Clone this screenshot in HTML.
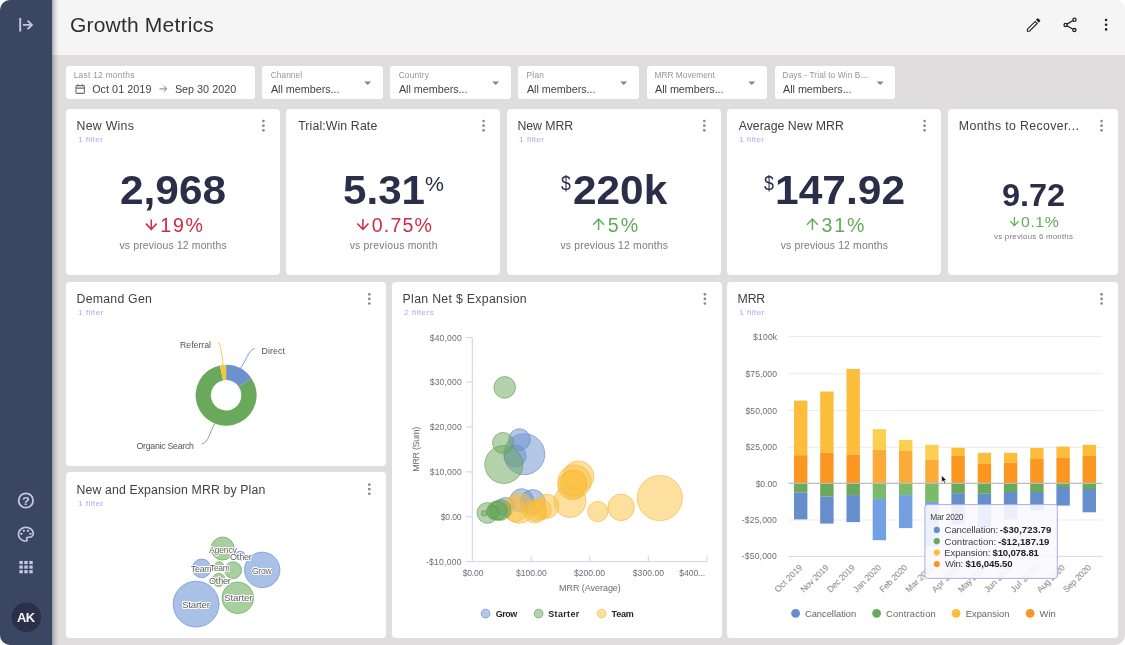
<!DOCTYPE html>
<html lang="en"><head><meta charset="utf-8"><title>Growth Metrics</title>
<style>
html,body{margin:0;padding:0;background:#fff;}
body{width:1125px;height:645px;overflow:hidden;font-family:"Liberation Sans", sans-serif;}
#app{position:relative;width:1125px;height:645px;background:#dfdddd;border-radius:10px;overflow:hidden;}
#side{position:absolute;left:0;top:0;width:52px;height:645px;background:#3a4662;}
#sh{position:absolute;left:52px;top:0;width:8px;height:645px;background:linear-gradient(90deg,rgba(40,40,50,.38),rgba(40,40,50,.20) 25%,rgba(40,40,50,.08) 55%,rgba(40,40,50,.02) 80%,rgba(40,40,50,0));}
#head{position:absolute;left:52px;top:0;width:1073px;height:55px;background:#f6f5f5;}
.fb,.card{position:absolute;background:#fff;}
.fb{border-radius:3px;}
.card{border-radius:4px;}
.t{position:absolute;white-space:pre;line-height:1;transform-origin:0 50%;}
svg{position:absolute;left:0;top:0;}
#tx{position:absolute;left:0;top:0;width:1125px;height:645px;will-change:transform;}
svg text{font-family:"Liberation Sans", sans-serif;}
</style></head>
<body>
<div id="app">
<div id="head"></div>
<div id="side"></div>
<div id="sh"></div>
<div class="fb" style="left:66.2px;top:66.4px;width:188.8px;height:32.3px"></div>
<div class="fb" style="left:262.2px;top:66.4px;width:120.7px;height:32.3px"></div>
<div class="fb" style="left:390.1px;top:66.4px;width:120.7px;height:32.3px"></div>
<div class="fb" style="left:518.2px;top:66.4px;width:120.7px;height:32.3px"></div>
<div class="fb" style="left:646.7px;top:66.4px;width:120.7px;height:32.3px"></div>
<div class="fb" style="left:774.8px;top:66.4px;width:120.7px;height:32.3px"></div>
<div class="card" style="left:66.0px;top:108.8px;width:214.0px;height:166.5px"></div>
<div class="card" style="left:286.2px;top:108.8px;width:214.1px;height:166.5px"></div>
<div class="card" style="left:506.9px;top:108.8px;width:214.0px;height:166.5px"></div>
<div class="card" style="left:727.2px;top:108.8px;width:214.0px;height:166.5px"></div>
<div class="card" style="left:948.0px;top:108.8px;width:170.4px;height:166.5px"></div>
<div class="card" style="left:66.0px;top:282.0px;width:320.0px;height:183.6px"></div>
<div class="card" style="left:66.0px;top:472.2px;width:320.0px;height:166.0px"></div>
<div class="card" style="left:392.2px;top:282.0px;width:329.4px;height:356.2px"></div>
<div class="card" style="left:727.2px;top:282.0px;width:391.2px;height:356.2px"></div>
<svg width="1125" height="645" viewBox="0 0 1125 645">
<g stroke="#c3c9df" stroke-width="1.9" fill="none" stroke-linecap="butt"><path d="M20.2 18.1V31.6"/><path d="M23 24.9H31.6"/><path d="M27.6 20.6L31.9 24.9L27.6 29.2"/></g>
<circle cx="25.9" cy="500.5" r="7.2" fill="none" stroke="#c3c9df" stroke-width="1.8"/>
<g transform="translate(16.06,525.1) scale(0.82,0.76)"><path fill="#c3c9df" d="M12 22C6.49 22 2 17.51 2 12S6.49 2 12 2s10 4.04 10 9c0 3.31-2.69 6-6 6h-1.77c-.28 0-.5.22-.5.5 0 .12.05.23.13.33.41.47.64 1.06.64 1.67A2.5 2.5 0 0 1 12 22zm0-18c-4.41 0-8 3.59-8 8s3.59 8 8 8c.28 0 .5-.22.5-.5a.54.54 0 0 0-.14-.35c-.41-.46-.63-1.05-.63-1.65a2.5 2.5 0 0 1 2.5-2.5H16c2.21 0 4-1.79 4-4 0-3.86-3.59-7-8-7z"/><circle cx="6.5" cy="11.5" r="1.5" fill="#c3c9df"/><circle cx="9.5" cy="7.5" r="1.5" fill="#c3c9df"/><circle cx="14.5" cy="7.5" r="1.5" fill="#c3c9df"/><circle cx="17.5" cy="11.5" r="1.5" fill="#c3c9df"/></g>
<rect x="19.4" y="560.9" width="3.4" height="3.2" fill="#c3c9df"/>
<rect x="19.4" y="565.5" width="3.4" height="3.2" fill="#c3c9df"/>
<rect x="19.4" y="570.1" width="3.4" height="3.2" fill="#c3c9df"/>
<rect x="24.3" y="560.9" width="3.4" height="3.2" fill="#c3c9df"/>
<rect x="24.3" y="565.5" width="3.4" height="3.2" fill="#c3c9df"/>
<rect x="24.3" y="570.1" width="3.4" height="3.2" fill="#c3c9df"/>
<rect x="29.3" y="560.9" width="3.4" height="3.2" fill="#c3c9df"/>
<rect x="29.3" y="565.5" width="3.4" height="3.2" fill="#c3c9df"/>
<rect x="29.3" y="570.1" width="3.4" height="3.2" fill="#c3c9df"/>
<circle cx="26.3" cy="617.3" r="14.8" fill="#2a3047"/>
<g transform="translate(1024.6,16.0) scale(0.75)"><path fill="#222" d="M3 17.25V21h3.75L17.81 9.94l-3.75-3.75L3 17.25zm2.92 2.33H4.42v-1.5l9.64-9.64 1.5 1.5-9.64 9.64zM20.71 5.63l-2.34-2.34a1 1 0 0 0-1.41 0l-1.83 1.83 3.75 3.75 1.83-1.83a1 1 0 0 0 0-1.41z"/></g>
<g stroke="#222" stroke-width="1.3" fill="none"><path d="M1067 24.1L1073.1 20.5M1067 25.7L1073 29.3"/><circle cx="1065.6" cy="24.9" r="1.6"/><circle cx="1074.5" cy="19.7" r="1.6"/><circle cx="1074.4" cy="30.1" r="1.6"/></g>
<circle cx="1106.1" cy="20.0" r="1.3" fill="#222"/>
<circle cx="1106.1" cy="24.7" r="1.3" fill="#222"/>
<circle cx="1106.1" cy="29.4" r="1.3" fill="#222"/>
<g stroke="#6e6e6e" stroke-width="1.1" fill="none"><rect x="76" y="85.6" width="8.4" height="7.8" rx="0.9"/><path d="M76 88.2H84.4" stroke-width="1.3"/><path d="M78.1 84.2V86M82.3 84.2V86" stroke-width="1.2"/></g>
<g stroke="#808080" stroke-width="1" fill="none"><path d="M159.5 88.9H166.6M163.6 85.9L166.8 88.9L163.6 91.9"/></g>
<path d="M364.1 81.4H371.1L367.6 85.0Z" fill="#858585"/>
<path d="M492.1 81.4H499.1L495.6 85.0Z" fill="#858585"/>
<path d="M620.2 81.4H627.2L623.7 85.0Z" fill="#858585"/>
<path d="M748.3 81.4H755.3L751.8 85.0Z" fill="#858585"/>
<path d="M876.6 81.4H883.6L880.1 85.0Z" fill="#858585"/>
<circle cx="263.4" cy="121.1" r="1.35" fill="#8b8b8b"/>
<circle cx="263.4" cy="125.7" r="1.35" fill="#8b8b8b"/>
<circle cx="263.4" cy="130.3" r="1.35" fill="#8b8b8b"/>
<circle cx="483.6" cy="121.1" r="1.35" fill="#8b8b8b"/>
<circle cx="483.6" cy="125.7" r="1.35" fill="#8b8b8b"/>
<circle cx="483.6" cy="130.3" r="1.35" fill="#8b8b8b"/>
<circle cx="704.3" cy="121.1" r="1.35" fill="#8b8b8b"/>
<circle cx="704.3" cy="125.7" r="1.35" fill="#8b8b8b"/>
<circle cx="704.3" cy="130.3" r="1.35" fill="#8b8b8b"/>
<circle cx="924.6" cy="121.1" r="1.35" fill="#8b8b8b"/>
<circle cx="924.6" cy="125.7" r="1.35" fill="#8b8b8b"/>
<circle cx="924.6" cy="130.3" r="1.35" fill="#8b8b8b"/>
<circle cx="1101.6" cy="121.1" r="1.35" fill="#8b8b8b"/>
<circle cx="1101.6" cy="125.7" r="1.35" fill="#8b8b8b"/>
<circle cx="1101.6" cy="130.3" r="1.35" fill="#8b8b8b"/>
<circle cx="369.3" cy="294.3" r="1.35" fill="#8b8b8b"/>
<circle cx="369.3" cy="298.9" r="1.35" fill="#8b8b8b"/>
<circle cx="369.3" cy="303.5" r="1.35" fill="#8b8b8b"/>
<circle cx="704.9" cy="294.3" r="1.35" fill="#8b8b8b"/>
<circle cx="704.9" cy="298.9" r="1.35" fill="#8b8b8b"/>
<circle cx="704.9" cy="303.5" r="1.35" fill="#8b8b8b"/>
<circle cx="1101.6" cy="294.3" r="1.35" fill="#8b8b8b"/>
<circle cx="1101.6" cy="298.9" r="1.35" fill="#8b8b8b"/>
<circle cx="1101.6" cy="303.5" r="1.35" fill="#8b8b8b"/>
<circle cx="369.3" cy="484.6" r="1.35" fill="#8b8b8b"/>
<circle cx="369.3" cy="489.2" r="1.35" fill="#8b8b8b"/>
<circle cx="369.3" cy="493.8" r="1.35" fill="#8b8b8b"/>
<g stroke="#cc2c45" stroke-width="1.5" fill="none"><path d="M151.3 219.4V229.0"/><path d="M145.9 223.63000000000002L151.3 229.3L156.70000000000002 223.63000000000002"/></g>
<g stroke="#cc2c45" stroke-width="1.5" fill="none"><path d="M362.9 218.9V229.0"/><path d="M357.29999999999995 223.42000000000002L362.9 229.3L368.5 223.42000000000002"/></g>
<g stroke="#64aa5a" stroke-width="1.5" fill="none"><path d="M598.6 230.0V219.4"/><path d="M593.2 224.76999999999998L598.6 219.1L604.0 224.76999999999998"/></g>
<g stroke="#64aa5a" stroke-width="1.5" fill="none"><path d="M812.4 230.0V219.4"/><path d="M807.0 224.76999999999998L812.4 219.1L817.8 224.76999999999998"/></g>
<g stroke="#64aa5a" stroke-width="1.3" fill="none"><path d="M1014.45 217.0V225.29999999999998"/><path d="M1010.35 221.295L1014.45 225.6L1018.5500000000001 221.295"/></g>
<path d="M251.39 378.24A30.5 30.5 0 1 1 219.97 365.42L223.04 380.41A15.2 15.2 0 1 0 238.70 386.80Z" fill="#6aa95b"/>
<path d="M226.10 364.80A30.5 30.5 0 0 1 251.39 378.24L238.70 386.80A15.2 15.2 0 0 0 226.10 380.10Z" fill="#6b91cf"/>
<path d="M219.97 365.42A30.5 30.5 0 0 1 226.10 364.80L226.10 380.10A15.2 15.2 0 0 0 223.04 380.41Z" fill="#f8c440"/>
<g fill="none" stroke-width="0.9"><path d="M217.4 342.3C221.5 343 221.5 356 223.3 365.5" stroke="#f8c440"/><path d="M254.6 348.5C248 350 246 362 240.2 368.4" stroke="#6b91cf"/><path d="M201.8 443.8C208 443.5 210 432 214.4 424" stroke="#6aa95b"/></g>
<circle cx="196.1" cy="604.1" r="22.9" fill="#a9c0e7" stroke="#7c9fd9" stroke-width="0.9"/>
<circle cx="237.8" cy="597.8" r="15.8" fill="#a8cf9f" stroke="#7cb76e" stroke-width="0.9"/>
<circle cx="262.2" cy="569.9" r="17.7" fill="#a9c0e7" stroke="#7c9fd9" stroke-width="0.9"/>
<circle cx="222.6" cy="548.5" r="11.5" fill="#a8cf9f" stroke="#7cb76e" stroke-width="0.9"/>
<circle cx="201.7" cy="568.4" r="9.3" fill="#a9c0e7" stroke="#7c9fd9" stroke-width="0.9"/>
<circle cx="233.2" cy="570.2" r="8.4" fill="#a8cf9f" stroke="#7cb76e" stroke-width="0.9"/>
<circle cx="219.2" cy="566.5" r="4.7" fill="#a8cf9f" stroke="#7cb76e" stroke-width="0.9"/>
<circle cx="218.8" cy="579.9" r="6.5" fill="#a8cf9f" stroke="#7cb76e" stroke-width="0.9"/>
<circle cx="240.2" cy="555.9" r="4.7" fill="#a9c0e7" stroke="#7c9fd9" stroke-width="0.9"/>
<g stroke="#cdd1f6" stroke-width="1" fill="none"><path d="M472.3 337.6V561.6H707"/><path d="M466 337.6H472.3"/><path d="M466 382.0H472.3"/><path d="M466 426.9H472.3"/><path d="M466 471.9H472.3"/><path d="M466 516.7H472.3"/><path d="M466 561.6H472.3"/><path d="M531.2 561.6V556"/><path d="M589.8 561.6V556"/><path d="M648.3 561.6V556"/><path d="M707 561.6V556"/></g>
<circle cx="659.8" cy="498" r="22.6" fill="#fcbf3d" fill-opacity="0.5" stroke="#f5b632" stroke-opacity="0.75" stroke-width="0.8"/>
<circle cx="621.1" cy="507.3" r="13.3" fill="#fcbf3d" fill-opacity="0.5" stroke="#f5b632" stroke-opacity="0.75" stroke-width="0.8"/>
<circle cx="597.8" cy="511.6" r="10.2" fill="#fcbf3d" fill-opacity="0.5" stroke="#f5b632" stroke-opacity="0.75" stroke-width="0.8"/>
<circle cx="569.9" cy="501.4" r="16.1" fill="#fcbf3d" fill-opacity="0.5" stroke="#f5b632" stroke-opacity="0.75" stroke-width="0.8"/>
<circle cx="578.4" cy="476.4" r="15.5" fill="#fcbf3d" fill-opacity="0.5" stroke="#f5b632" stroke-opacity="0.75" stroke-width="0.8"/>
<circle cx="574.6" cy="481.6" r="16.6" fill="#fcbf3d" fill-opacity="0.5" stroke="#f5b632" stroke-opacity="0.75" stroke-width="0.8"/>
<circle cx="572.2" cy="485.2" r="14.5" fill="#fcbf3d" fill-opacity="0.5" stroke="#f5b632" stroke-opacity="0.75" stroke-width="0.8"/>
<circle cx="573.8" cy="483.0" r="13.0" fill="#fcbf3d" fill-opacity="0.5" stroke="#f5b632" stroke-opacity="0.75" stroke-width="0.8"/>
<circle cx="532.7" cy="502" r="12.4" fill="#6a8fce" fill-opacity="0.5" stroke="#5f86c8" stroke-opacity="0.75" stroke-width="0.8"/>
<circle cx="521.6" cy="500.5" r="11.8" fill="#6a8fce" fill-opacity="0.5" stroke="#5f86c8" stroke-opacity="0.75" stroke-width="0.8"/>
<circle cx="505.4" cy="506.7" r="9.3" fill="#6a8fce" fill-opacity="0.5" stroke="#5f86c8" stroke-opacity="0.75" stroke-width="0.8"/>
<circle cx="546.9" cy="506.2" r="12.0" fill="#fcbf3d" fill-opacity="0.5" stroke="#f5b632" stroke-opacity="0.75" stroke-width="0.8"/>
<circle cx="541.1" cy="509.8" r="10.2" fill="#fcbf3d" fill-opacity="0.5" stroke="#f5b632" stroke-opacity="0.75" stroke-width="0.8"/>
<circle cx="535.0" cy="511.2" r="11.8" fill="#fcbf3d" fill-opacity="0.5" stroke="#f5b632" stroke-opacity="0.75" stroke-width="0.8"/>
<circle cx="535.6" cy="511.4" r="9.5" fill="#fcbf3d" fill-opacity="0.5" stroke="#f5b632" stroke-opacity="0.75" stroke-width="0.8"/>
<circle cx="519.3" cy="508.3" r="15.0" fill="#fcbf3d" fill-opacity="0.5" stroke="#f5b632" stroke-opacity="0.75" stroke-width="0.8"/>
<circle cx="515.3" cy="509.8" r="11.8" fill="#fcbf3d" fill-opacity="0.5" stroke="#f5b632" stroke-opacity="0.75" stroke-width="0.8"/>
<circle cx="487.4" cy="512.9" r="10.4" fill="#6aa85a" fill-opacity="0.5" stroke="#5c9c4d" stroke-opacity="0.75" stroke-width="0.8"/>
<circle cx="496.7" cy="510.7" r="9.6" fill="#6aa85a" fill-opacity="0.5" stroke="#5c9c4d" stroke-opacity="0.75" stroke-width="0.8"/>
<circle cx="500.6" cy="509.9" r="10.4" fill="#6aa85a" fill-opacity="0.5" stroke="#5c9c4d" stroke-opacity="0.75" stroke-width="0.8"/>
<circle cx="498.4" cy="510.6" r="9.4" fill="#6aa85a" fill-opacity="0.5" stroke="#5c9c4d" stroke-opacity="0.75" stroke-width="0.8"/>
<circle cx="484.0" cy="513.4" r="2.8" fill="#6aa85a" fill-opacity="0.5" stroke="#5c9c4d" stroke-opacity="0.75" stroke-width="0.8"/>
<circle cx="493" cy="512" r="6.5" fill="#6aa85a" fill-opacity="0.5" stroke="#5c9c4d" stroke-opacity="0.75" stroke-width="0.8"/>
<circle cx="524.3" cy="454.2" r="20.5" fill="#6a8fce" fill-opacity="0.5" stroke="#5f86c8" stroke-opacity="0.75" stroke-width="0.8"/>
<circle cx="519.5" cy="439.5" r="10.8" fill="#6a8fce" fill-opacity="0.5" stroke="#5f86c8" stroke-opacity="0.75" stroke-width="0.8"/>
<circle cx="515.2" cy="456" r="10.8" fill="#6a8fce" fill-opacity="0.5" stroke="#5f86c8" stroke-opacity="0.75" stroke-width="0.8"/>
<circle cx="503.8" cy="464.5" r="19" fill="#6aa85a" fill-opacity="0.5" stroke="#5c9c4d" stroke-opacity="0.75" stroke-width="0.8"/>
<circle cx="503" cy="442.9" r="10.5" fill="#6aa85a" fill-opacity="0.5" stroke="#5c9c4d" stroke-opacity="0.75" stroke-width="0.8"/>
<circle cx="504.7" cy="387.4" r="10.8" fill="#6aa85a" fill-opacity="0.5" stroke="#5c9c4d" stroke-opacity="0.75" stroke-width="0.8"/>
<text x="419.1" y="449.3" transform="rotate(-90 419.1 449.3)" text-anchor="middle" font-size="9" fill="#6e6e6e" textLength="45" lengthAdjust="spacing">MRR (Sum)</text>
<circle cx="485.6" cy="613.6" r="4.4" fill="#6a8fce" fill-opacity="0.5" stroke="#5f86c8" stroke-opacity="0.8" stroke-width="0.8"/>
<circle cx="538.6" cy="613.6" r="4.4" fill="#6aa85a" fill-opacity="0.5" stroke="#5c9c4d" stroke-opacity="0.8" stroke-width="0.8"/>
<circle cx="601.6" cy="613.6" r="4.4" fill="#fcbf3d" fill-opacity="0.5" stroke="#f5b632" stroke-opacity="0.8" stroke-width="0.8"/>
<g stroke="#ebebee" stroke-width="1" fill="none"><path d="M788.5 336.6H1102.5"/><path d="M788.5 373.8H1102.5"/><path d="M788.5 410.6H1102.5"/><path d="M788.5 447.3H1102.5"/><path d="M788.5 520.0H1102.5"/></g>
<path d="M788.5 556.4H1102.5" stroke="#d3d6f3" stroke-width="1" fill="none"/>
<rect x="794.0" y="400.6" width="13.4" height="54.6" fill="#fdbd3c"/>
<rect x="794.0" y="455.2" width="13.4" height="28.2" fill="#fb9621"/>
<rect x="794.0" y="483.4" width="13.4" height="9.2" fill="#6aa85a"/>
<rect x="794.0" y="492.6" width="13.4" height="26.8" fill="#668dcc"/>
<rect x="820.2" y="391.5" width="13.4" height="61.3" fill="#fdbd3c"/>
<rect x="820.2" y="452.8" width="13.4" height="30.6" fill="#fb9621"/>
<rect x="820.2" y="483.4" width="13.4" height="13.2" fill="#6aa85a"/>
<rect x="820.2" y="496.6" width="13.4" height="27.0" fill="#668dcc"/>
<rect x="846.5" y="368.9" width="13.4" height="85.8" fill="#fdbd3c"/>
<rect x="846.5" y="454.7" width="13.4" height="28.7" fill="#fb9621"/>
<rect x="846.5" y="483.4" width="13.4" height="11.7" fill="#6aa85a"/>
<rect x="846.5" y="495.1" width="13.4" height="27.0" fill="#668dcc"/>
<rect x="872.7" y="429.2" width="13.4" height="20.6" fill="#fdcf50"/>
<rect x="872.7" y="449.8" width="13.4" height="33.6" fill="#fcab38"/>
<rect x="872.7" y="483.4" width="13.4" height="15.7" fill="#7aba6b"/>
<rect x="872.7" y="499.1" width="13.4" height="41.1" fill="#73a0e2"/>
<rect x="899.0" y="439.9" width="13.4" height="10.9" fill="#fdcf50"/>
<rect x="899.0" y="450.8" width="13.4" height="32.6" fill="#fcab38"/>
<rect x="899.0" y="483.4" width="13.4" height="11.7" fill="#7aba6b"/>
<rect x="899.0" y="495.1" width="13.4" height="33.0" fill="#73a0e2"/>
<rect x="925.2" y="444.8" width="13.4" height="14.9" fill="#fdcf50"/>
<rect x="925.2" y="459.7" width="13.4" height="23.7" fill="#fcab38"/>
<rect x="925.2" y="483.4" width="13.4" height="18.5" fill="#7aba6b"/>
<rect x="925.2" y="501.9" width="13.4" height="44.3" fill="#73a0e2"/>
<rect x="951.4" y="447.8" width="13.4" height="8.2" fill="#fdbd3c"/>
<rect x="951.4" y="456.0" width="13.4" height="27.4" fill="#fb9621"/>
<rect x="951.4" y="483.4" width="13.4" height="9.8" fill="#6aa85a"/>
<rect x="951.4" y="493.2" width="13.4" height="31.3" fill="#668dcc"/>
<rect x="977.7" y="452.8" width="13.4" height="11.1" fill="#fdbd3c"/>
<rect x="977.7" y="463.9" width="13.4" height="19.5" fill="#fb9621"/>
<rect x="977.7" y="483.4" width="13.4" height="10.3" fill="#6aa85a"/>
<rect x="977.7" y="493.7" width="13.4" height="33.7" fill="#668dcc"/>
<rect x="1003.9" y="452.8" width="13.4" height="9.9" fill="#fdbd3c"/>
<rect x="1003.9" y="462.7" width="13.4" height="20.7" fill="#fb9621"/>
<rect x="1003.9" y="483.4" width="13.4" height="8.6" fill="#6aa85a"/>
<rect x="1003.9" y="492.0" width="13.4" height="27.3" fill="#668dcc"/>
<rect x="1030.2" y="448.0" width="13.4" height="11.0" fill="#fdbd3c"/>
<rect x="1030.2" y="459.0" width="13.4" height="24.4" fill="#fb9621"/>
<rect x="1030.2" y="483.4" width="13.4" height="8.6" fill="#6aa85a"/>
<rect x="1030.2" y="492.0" width="13.4" height="18.4" fill="#668dcc"/>
<rect x="1056.4" y="446.6" width="13.4" height="11.1" fill="#fdbd3c"/>
<rect x="1056.4" y="457.7" width="13.4" height="25.7" fill="#fb9621"/>
<rect x="1056.4" y="483.4" width="13.4" height="3.6" fill="#6aa85a"/>
<rect x="1056.4" y="487.0" width="13.4" height="18.6" fill="#668dcc"/>
<rect x="1082.6" y="444.8" width="13.4" height="11.2" fill="#fdbd3c"/>
<rect x="1082.6" y="456.0" width="13.4" height="27.4" fill="#fb9621"/>
<rect x="1082.6" y="483.4" width="13.4" height="5.6" fill="#6aa85a"/>
<rect x="1082.6" y="489.0" width="13.4" height="23.3" fill="#668dcc"/>
<path d="M788.5 483.4H1102.5" stroke="#bcbcbf" stroke-width="1.15" fill="none"/>
<text x="803.0" y="568.0" transform="rotate(-45 803.0 568.0)" text-anchor="end" font-size="8.7" fill="#858585" textLength="35.5" lengthAdjust="spacing">Oct 2019</text>
<text x="829.2" y="568.0" transform="rotate(-45 829.2 568.0)" text-anchor="end" font-size="8.7" fill="#858585" textLength="35.5" lengthAdjust="spacing">Nov 2019</text>
<text x="855.5" y="568.0" transform="rotate(-45 855.5 568.0)" text-anchor="end" font-size="8.7" fill="#858585" textLength="35.5" lengthAdjust="spacing">Dec 2019</text>
<text x="881.7" y="568.0" transform="rotate(-45 881.7 568.0)" text-anchor="end" font-size="8.7" fill="#858585" textLength="35.5" lengthAdjust="spacing">Jan 2020</text>
<text x="908.0" y="568.0" transform="rotate(-45 908.0 568.0)" text-anchor="end" font-size="8.7" fill="#858585" textLength="35.5" lengthAdjust="spacing">Feb 2020</text>
<text x="934.2" y="568.0" transform="rotate(-45 934.2 568.0)" text-anchor="end" font-size="8.7" fill="#858585" textLength="35.5" lengthAdjust="spacing">Mar 2020</text>
<text x="960.4" y="568.0" transform="rotate(-45 960.4 568.0)" text-anchor="end" font-size="8.7" fill="#858585" textLength="35.5" lengthAdjust="spacing">Apr 2020</text>
<text x="986.7" y="568.0" transform="rotate(-45 986.7 568.0)" text-anchor="end" font-size="8.7" fill="#858585" textLength="35.5" lengthAdjust="spacing">May 2020</text>
<text x="1012.9" y="568.0" transform="rotate(-45 1012.9 568.0)" text-anchor="end" font-size="8.7" fill="#858585" textLength="35.5" lengthAdjust="spacing">Jun 2020</text>
<text x="1039.2" y="568.0" transform="rotate(-45 1039.2 568.0)" text-anchor="end" font-size="8.7" fill="#858585" textLength="35.5" lengthAdjust="spacing">Jul 2020</text>
<text x="1065.4" y="568.0" transform="rotate(-45 1065.4 568.0)" text-anchor="end" font-size="8.7" fill="#858585" textLength="35.5" lengthAdjust="spacing">Aug 2020</text>
<text x="1091.6" y="568.0" transform="rotate(-45 1091.6 568.0)" text-anchor="end" font-size="8.7" fill="#858585" textLength="35.5" lengthAdjust="spacing">Sep 2020</text>
<circle cx="795.6" cy="613.3" r="4.4" fill="#668dcc"/>
<circle cx="876.6" cy="613.3" r="4.4" fill="#6aa85a"/>
<circle cx="956.1" cy="613.3" r="4.4" fill="#fdbd3c"/>
<circle cx="1030.1" cy="613.3" r="4.4" fill="#fb9621"/>
<rect x="924.9" y="504.6" width="132.4" height="73.8" rx="2.5" fill="#f8f8fe" fill-opacity="0.91" stroke="#a9b1e2" stroke-width="1"/>
<circle cx="936.8" cy="529.9" r="3.1" fill="#668dcc"/>
<circle cx="936.8" cy="541.2" r="3.1" fill="#6aa85a"/>
<circle cx="936.8" cy="552.6" r="3.1" fill="#fdbd3c"/>
<circle cx="936.8" cy="564.1" r="3.1" fill="#fb9621"/>
<path d="M941.6 475.4V482.2L943.2 480.8L944.5 484L945.7 483.5L944.4 480.4H946.8Z" fill="#111" stroke="#fff" stroke-width="0.6" stroke-linejoin="round"/>
</svg>
<div id="tx">
<span class="t" style="left:69.96px;top:14px;font-size:21px;color:#2f2f2f;letter-spacing:0.198px;">Growth Metrics</span>
<span class="t" style="left:73.64px;top:71px;font-size:8.3px;color:#959595;letter-spacing:0.310px;">Last 12 months</span>
<span class="t" style="left:92.18px;top:84px;font-size:10.8px;color:#444;letter-spacing:0.039px;">Oct 01 2019</span>
<span class="t" style="left:174.92px;top:84px;font-size:10.8px;color:#444;">Sep 30 2020</span>
<span class="t" style="left:270.66px;top:71px;font-size:8.3px;color:#959595;letter-spacing:0.088px;">Channel</span>
<span class="t" style="left:270.96px;top:84px;font-size:10.8px;color:#444;letter-spacing:-0.035px;">All members...</span>
<span class="t" style="left:398.66px;top:71px;font-size:8.3px;color:#959595;letter-spacing:0.190px;">Country</span>
<span class="t" style="left:398.96px;top:84px;font-size:10.8px;color:#444;letter-spacing:-0.035px;">All members...</span>
<span class="t" style="left:526.44px;top:71px;font-size:8.3px;color:#959595;letter-spacing:0.309px;">Plan</span>
<span class="t" style="left:526.96px;top:84px;font-size:10.8px;color:#444;letter-spacing:-0.035px;">All members...</span>
<span class="t" style="left:654.54px;top:71px;font-size:8.3px;color:#959595;letter-spacing:0.028px;">MRR Movement</span>
<span class="t" style="left:655.06px;top:84px;font-size:10.8px;color:#444;letter-spacing:-0.035px;">All members...</span>
<span class="t" style="left:782.54px;top:71px;font-size:8.3px;color:#959595;letter-spacing:0.113px;">Days - Trial to Win B...</span>
<span class="t" style="left:783.06px;top:84px;font-size:10.8px;color:#444;letter-spacing:-0.035px;">All members...</span>
<span class="t" style="left:76.60px;top:120px;font-size:12.3px;color:#414141;letter-spacing:0.265px;">New Wins</span>
<span class="t" style="left:298.18px;top:120px;font-size:12.3px;color:#414141;letter-spacing:0.124px;">Trial:Win Rate</span>
<span class="t" style="left:517.40px;top:120px;font-size:12.3px;color:#414141;letter-spacing:-0.046px;">New MRR</span>
<span class="t" style="left:738.74px;top:120px;font-size:12.3px;color:#414141;letter-spacing:0.006px;">Average New MRR</span>
<span class="t" style="left:958.80px;top:120px;font-size:12.3px;color:#414141;letter-spacing:0.385px;">Months to Recover...</span>
<span class="t" style="left:78.02px;top:136px;font-size:7.8px;color:#abb2ee;letter-spacing:0.145px;transform:scaleX(1.137);">1 filter</span>
<span class="t" style="left:519.02px;top:136px;font-size:7.8px;color:#abb2ee;letter-spacing:0.145px;transform:scaleX(1.137);">1 filter</span>
<span class="t" style="left:739.02px;top:136px;font-size:7.8px;color:#abb2ee;letter-spacing:0.145px;transform:scaleX(1.137);">1 filter</span>
<span class="t" style="left:120.08px;top:170px;font-size:40.5px;color:#2a2e49;font-weight:700;transform:scaleX(1.047);">2,968</span>
<span class="t" style="left:160.34px;top:216px;font-size:19.6px;color:#cc2c45;letter-spacing:1.689px;">19%</span>
<span class="t" style="left:119.47px;top:241px;font-size:10.4px;color:#7b7b7b;letter-spacing:0.165px;">vs previous 12 months</span>
<span class="t" style="left:342.58px;top:170px;font-size:40.5px;color:#2a2e49;font-weight:700;transform:scaleX(1.041);">5.31</span>
<span class="t" style="left:425.40px;top:174px;font-size:20px;color:#2a2e49;transform:scaleX(1.064);">%</span>
<span class="t" style="left:371.82px;top:216px;font-size:19.6px;color:#cc2c45;letter-spacing:1.146px;">0.75%</span>
<span class="t" style="left:349.67px;top:241px;font-size:10.4px;color:#7b7b7b;letter-spacing:0.217px;">vs previous month</span>
<span class="t" style="left:561.13px;top:173px;font-size:20px;color:#2a2e49;transform:scaleX(0.887);">$</span>
<span class="t" style="left:573.18px;top:170px;font-size:40.5px;color:#2a2e49;font-weight:700;transform:scaleX(1.046);">220k</span>
<span class="t" style="left:607.80px;top:216px;font-size:19.6px;color:#64aa5a;letter-spacing:1.957px;">5%</span>
<span class="t" style="left:560.47px;top:241px;font-size:10.4px;color:#7b7b7b;letter-spacing:0.180px;">vs previous 12 months</span>
<span class="t" style="left:763.62px;top:173px;font-size:20px;color:#2a2e49;transform:scaleX(0.897);">$</span>
<span class="t" style="left:775.27px;top:170px;font-size:40.5px;color:#2a2e49;font-weight:700;transform:scaleX(1.050);">147.92</span>
<span class="t" style="left:821.62px;top:216px;font-size:19.6px;color:#64aa5a;letter-spacing:1.800px;">31%</span>
<span class="t" style="left:780.67px;top:241px;font-size:10.4px;color:#7b7b7b;letter-spacing:0.170px;">vs previous 12 months</span>
<span class="t" style="left:1001.90px;top:180px;font-size:31px;color:#2a2e49;font-weight:700;transform:scaleX(1.047);">9.72</span>
<span class="t" style="left:1020.98px;top:215px;font-size:14.6px;color:#64aa5a;letter-spacing:0.536px;transform:scaleX(1.084);">0.1%</span>
<span class="t" style="left:994.08px;top:233px;font-size:7.9px;color:#7b7b7b;letter-spacing:0.226px;">vs previous 6 months</span>
<span class="t" style="left:76.60px;top:293px;font-size:12.3px;color:#414141;letter-spacing:0.230px;">Demand Gen</span>
<span class="t" style="left:77.71px;top:309px;font-size:7.8px;color:#abb2ee;letter-spacing:0.145px;transform:scaleX(1.151);">1 filter</span>
<span class="t" style="left:76.60px;top:484px;font-size:12.3px;color:#414141;letter-spacing:0.122px;">New and Expansion MRR by Plan</span>
<span class="t" style="left:77.71px;top:500px;font-size:7.8px;color:#abb2ee;letter-spacing:0.145px;transform:scaleX(1.151);">1 filter</span>
<span class="t" style="left:402.60px;top:293px;font-size:12.3px;color:#414141;letter-spacing:0.305px;">Plan Net $ Expansion</span>
<span class="t" style="left:404.15px;top:309px;font-size:7.8px;color:#abb2ee;letter-spacing:0.151px;transform:scaleX(1.136);">2 filters</span>
<span class="t" style="left:737.60px;top:293px;font-size:12.3px;color:#414141;letter-spacing:-0.200px;">MRR</span>
<span class="t" style="left:738.71px;top:309px;font-size:7.8px;color:#abb2ee;letter-spacing:0.145px;transform:scaleX(1.151);">1 filter</span>
<span class="t" style="left:180.01px;top:341px;font-size:8.8px;color:#555;letter-spacing:-0.038px;">Referral</span>
<span class="t" style="left:261.41px;top:347px;font-size:8.8px;color:#555;letter-spacing:0.137px;">Direct</span>
<span class="t" style="left:136.46px;top:442px;font-size:8.8px;color:#555;letter-spacing:-0.276px;">Organic Search</span>
<span class="t" style="left:429.74px;top:334px;font-size:8.6px;color:#6e6e6e;letter-spacing:0.144px;">$40,000</span>
<span class="t" style="left:429.74px;top:378px;font-size:8.6px;color:#6e6e6e;letter-spacing:0.144px;">$30,000</span>
<span class="t" style="left:429.74px;top:423px;font-size:8.6px;color:#6e6e6e;letter-spacing:0.144px;">$20,000</span>
<span class="t" style="left:429.74px;top:468px;font-size:8.6px;color:#6e6e6e;letter-spacing:0.144px;">$10,000</span>
<span class="t" style="left:440.74px;top:513px;font-size:8.6px;color:#6e6e6e;letter-spacing:-0.149px;">$0.00</span>
<span class="t" style="left:425.99px;top:558px;font-size:8.6px;color:#6e6e6e;letter-spacing:0.232px;">-$10,000</span>
<span class="t" style="left:462.64px;top:569px;font-size:8.6px;color:#6e6e6e;letter-spacing:-0.174px;">$0.00</span>
<span class="t" style="left:515.94px;top:569px;font-size:8.6px;color:#6e6e6e;letter-spacing:-0.039px;">$100.00</span>
<span class="t" style="left:573.94px;top:569px;font-size:8.6px;color:#6e6e6e;letter-spacing:0.011px;">$200.00</span>
<span class="t" style="left:632.84px;top:569px;font-size:8.6px;color:#6e6e6e;letter-spacing:0.011px;">$300.00</span>
<span class="t" style="left:679.34px;top:569px;font-size:8.6px;color:#6e6e6e;letter-spacing:-0.083px;">$400...</span>
<span class="t" style="left:558.99px;top:584px;font-size:9px;color:#6e6e6e;letter-spacing:-0.042px;">MRR (Average)</span>
<span class="t" style="left:495.69px;top:610px;font-size:9px;color:#262626;font-weight:700;letter-spacing:-0.491px;">Grow</span>
<span class="t" style="left:548.28px;top:610px;font-size:9px;color:#262626;font-weight:700;letter-spacing:0.332px;">Starter</span>
<span class="t" style="left:611.49px;top:610px;font-size:9px;color:#262626;font-weight:700;letter-spacing:-0.165px;">Team</span>
<span class="t" style="left:752.94px;top:333px;font-size:8.6px;color:#6e6e6e;letter-spacing:0.204px;">$100k</span>
<span class="t" style="left:745.44px;top:370px;font-size:8.6px;color:#6e6e6e;letter-spacing:0.078px;">$75,000</span>
<span class="t" style="left:745.44px;top:407px;font-size:8.6px;color:#6e6e6e;letter-spacing:0.078px;">$50,000</span>
<span class="t" style="left:745.44px;top:443px;font-size:8.6px;color:#6e6e6e;letter-spacing:0.078px;">$25,000</span>
<span class="t" style="left:755.64px;top:480px;font-size:8.6px;color:#6e6e6e;letter-spacing:-0.049px;">$0.00</span>
<span class="t" style="left:741.69px;top:516px;font-size:8.6px;color:#6e6e6e;letter-spacing:0.175px;">-$25,000</span>
<span class="t" style="left:741.69px;top:552px;font-size:8.6px;color:#6e6e6e;letter-spacing:0.175px;">-$50,000</span>
<span class="t" style="left:804.90px;top:609px;font-size:9.4px;color:#666;letter-spacing:-0.030px;">Cancellation</span>
<span class="t" style="left:886.00px;top:609px;font-size:9.4px;color:#666;letter-spacing:0.180px;">Contraction</span>
<span class="t" style="left:965.66px;top:609px;font-size:9.4px;color:#666;letter-spacing:0.015px;">Expansion</span>
<span class="t" style="left:1039.56px;top:609px;font-size:9.4px;color:#666;letter-spacing:0.039px;">Win</span>
<span class="t" style="left:930.34px;top:513px;font-size:8.4px;color:#444;letter-spacing:-0.322px;">Mar 2020</span>
<span class="t" style="left:944.61px;top:525px;font-size:9.6px;color:#444;letter-spacing:-0.159px;">Cancellation:</span>
<span class="t" style="left:999.85px;top:525px;font-size:9.6px;color:#222;font-weight:700;letter-spacing:0.024px;">-$30,723.79</span>
<span class="t" style="left:944.61px;top:537px;font-size:9.6px;color:#444;letter-spacing:-0.007px;">Contraction:</span>
<span class="t" style="left:998.05px;top:537px;font-size:9.6px;color:#222;font-weight:700;letter-spacing:0.014px;">-$12,187.19</span>
<span class="t" style="left:944.34px;top:548px;font-size:9.6px;color:#444;letter-spacing:-0.149px;">Expansion:</span>
<span class="t" style="left:992.47px;top:548px;font-size:9.6px;color:#222;font-weight:700;letter-spacing:-0.172px;">$10,078.81</span>
<span class="t" style="left:944.96px;top:559px;font-size:9.6px;color:#444;letter-spacing:-0.328px;">Win:</span>
<span class="t" style="left:965.47px;top:559px;font-size:9.6px;color:#222;font-weight:700;letter-spacing:-0.106px;">$16,045.50</span>
<span class="t" style="left:209.34px;top:545px;font-size:9.6px;color:#5e5e5e;letter-spacing:-0.254px;transform:scaleX(0.906);text-shadow:-.8px 0 #fff,.8px 0 #fff,0 -.8px #fff,0 .8px #fff,-.6px -.6px #fff,.6px -.6px #fff,-.6px .6px #fff,.6px .6px #fff,0 0 1.5px #fff;">Agency</span>
<span class="t" style="left:229.54px;top:552px;font-size:9.6px;color:#5e5e5e;letter-spacing:-0.232px;transform:scaleX(0.945);text-shadow:-.8px 0 #fff,.8px 0 #fff,0 -.8px #fff,0 .8px #fff,-.6px -.6px #fff,.6px -.6px #fff,-.6px .6px #fff,.6px .6px #fff,0 0 1.5px #fff;">Other</span>
<span class="t" style="left:191.47px;top:564px;font-size:9.6px;color:#5e5e5e;letter-spacing:-0.300px;transform:scaleX(0.915);text-shadow:-.8px 0 #fff,.8px 0 #fff,0 -.8px #fff,0 .8px #fff,-.6px -.6px #fff,.6px -.6px #fff,-.6px .6px #fff,.6px .6px #fff,0 0 1.5px #fff;">Team</span>
<span class="t" style="left:210.18px;top:563px;font-size:9.6px;color:#5e5e5e;letter-spacing:-0.300px;transform:scaleX(0.874);text-shadow:-.8px 0 #fff,.8px 0 #fff,0 -.8px #fff,0 .8px #fff,-.6px -.6px #fff,.6px -.6px #fff,-.6px .6px #fff,.6px .6px #fff,0 0 1.5px #fff;">Team</span>
<span class="t" style="left:252.44px;top:566px;font-size:9.6px;color:#5e5e5e;letter-spacing:-0.298px;transform:scaleX(0.886);text-shadow:-.8px 0 #fff,.8px 0 #fff,0 -.8px #fff,0 .8px #fff,-.6px -.6px #fff,.6px -.6px #fff,-.6px .6px #fff,.6px .6px #fff,0 0 1.5px #fff;">Grow</span>
<span class="t" style="left:208.54px;top:576px;font-size:9.6px;color:#5e5e5e;letter-spacing:-0.232px;transform:scaleX(0.945);text-shadow:-.8px 0 #fff,.8px 0 #fff,0 -.8px #fff,0 .8px #fff,-.6px -.6px #fff,.6px -.6px #fff,-.6px .6px #fff,.6px .6px #fff,0 0 1.5px #fff;">Other</span>
<span class="t" style="left:224.26px;top:593px;font-size:9.6px;color:#5e5e5e;letter-spacing:-0.115px;text-shadow:-.8px 0 #fff,.8px 0 #fff,0 -.8px #fff,0 .8px #fff,-.6px -.6px #fff,.6px -.6px #fff,-.6px .6px #fff,.6px .6px #fff,0 0 1.5px #fff;">Starter</span>
<span class="t" style="left:182.16px;top:600px;font-size:9.6px;color:#5e5e5e;letter-spacing:-0.182px;text-shadow:-.8px 0 #fff,.8px 0 #fff,0 -.8px #fff,0 .8px #fff,-.6px -.6px #fff,.6px -.6px #fff,-.6px .6px #fff,.6px .6px #fff,0 0 1.5px #fff;">Starter</span>
<span class="t" style="left:17.03px;top:611px;font-size:13.6px;color:#f4f5f9;font-weight:700;letter-spacing:-0.745px;transform:scaleX(0.957);">AK</span>
<span class="t" style="left:21.92px;top:496px;font-size:11.5px;color:#cfd4e6;font-weight:700;transform:scaleX(1.117);">?</span>
</div>
</div>
</body></html>
